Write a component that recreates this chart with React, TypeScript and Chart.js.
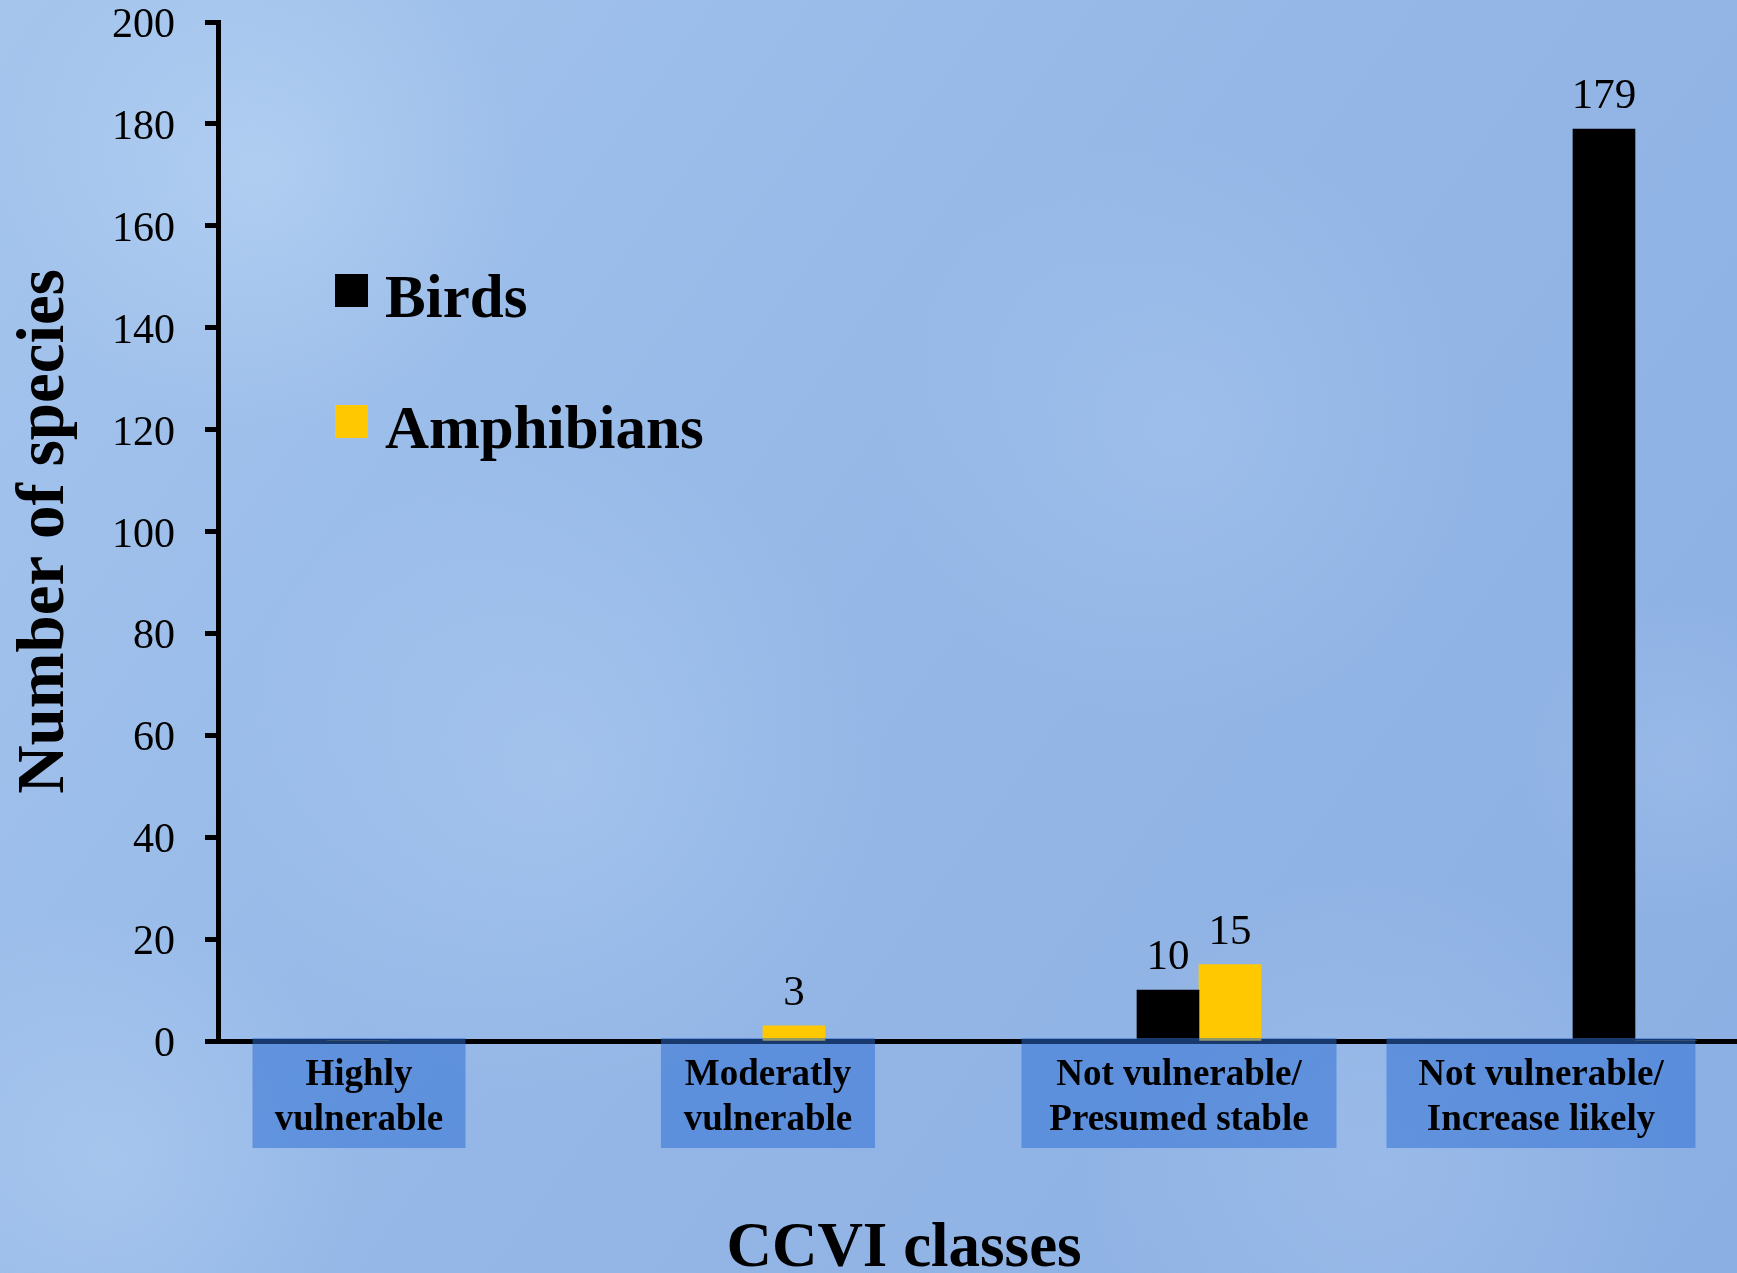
import React, { useEffect, useRef } from "react";
import { Chart, registerables } from "chart.js";

Chart.register(...registerables);

// ---------- data ----------
const categories: string[][] = [
  ["Highly", "vulnerable"],
  ["Moderatly", "vulnerable"],
  ["Not vulnerable/", "Presumed stable"],
  ["Not vulnerable/", "Increase likely"],
];
const seriesNames = ["Birds", "Amphibians"];
const birds = [0, 0, 10, 179];
const amphibians = [0, 3, 15, 0];
const yMin = 0;
const yMax = 200;
const yStep = 20;
const xTitle = "CCVI classes";
const yTitle = "Number of species";

// ---------- styles / layout ----------
const FONT = '"Liberation Serif", "Times New Roman", serif';
const seriesColors = ["#000000", "#ffc800"];
const labelBoxShift = [32, 5, -20, -94];
const labelBoxWidth = [213, 214, 315, 309];

const bgPlugin = {
  id: "bgPlugin",
  beforeDraw(chart: any) {
    const { ctx, width, height } = chart;
    ctx.save();
    const g = ctx.createLinearGradient(0, 0, width, height);
    g.addColorStop(0, "#a5c5ed");
    g.addColorStop(0.5, "#94b7e7");
    g.addColorStop(1, "#8cafe3");
    ctx.fillStyle = g;
    ctx.fillRect(0, 0, width, height);
    const blobs: number[][] = [
      [260, 170, 260, 0.35],
      [560, 770, 330, 0.22],
      [1180, 430, 300, 0.18],
      [110, 1160, 250, 0.25],
      [1380, 1170, 300, 0.18],
      [1680, 760, 160, 0.15],
    ];
    for (const [x, y, r, a] of blobs) {
      const rg = ctx.createRadialGradient(x, y, 0, x, y, r);
      rg.addColorStop(0, `rgba(205,228,252,${a})`);
      rg.addColorStop(1, "rgba(205,228,252,0)");
      ctx.fillStyle = rg;
      ctx.fillRect(x - r, y - r, 2 * r, 2 * r);
    }
    ctx.restore();
  },
};

const valueLabelPlugin = {
  id: "valueLabelPlugin",
  afterDatasetsDraw(chart: any) {
    const { ctx } = chart;
    ctx.save();
    ctx.fillStyle = "#000";
    ctx.font = `43px ${FONT}`;
    ctx.textAlign = "center";
    ctx.textBaseline = "alphabetic";
    chart.data.datasets.forEach((ds: any, di: number) => {
      const meta = chart.getDatasetMeta(di);
      meta.data.forEach((bar: any, i: number) => {
        const v = ds.data[i].y;
        if (!v) return;
        ctx.fillText(String(v), bar.x, bar.y - 21);
      });
    });
    ctx.restore();
  },
};

const decorPlugin = {
  id: "decorPlugin",
  afterDraw(chart: any) {
    const { ctx, chartArea } = chart;
    const xs = chart.scales.x;
    ctx.save();
    // category label boxes
    const top = chartArea.bottom - 3;
    const h = 110;
    categories.forEach((lines, i) => {
      const cx = xs.getPixelForValue(i) + labelBoxShift[i];
      const w = labelBoxWidth[i];
      ctx.fillStyle = "rgba(45,110,210,0.52)";
      ctx.fillRect(cx - w / 2, top, w, h);
      ctx.fillStyle = "#000";
      ctx.font = `bold 37px ${FONT}`;
      ctx.textAlign = "center";
      ctx.textBaseline = "alphabetic";
      lines.forEach((ln, k) => ctx.fillText(ln, cx, top + 47 + k * 45));
    });
    // legend
    const lx = chartArea.left + 117;
    const ly = chartArea.top + 295;
    chart.data.datasets.forEach((ds: any, di: number) => {
      const by = ly + di * 131;
      ctx.fillStyle = ds.backgroundColor;
      ctx.fillRect(lx, by - 43, 33, 33);
      ctx.fillStyle = "#000";
      ctx.font = `bold 61px ${FONT}`;
      ctx.textAlign = "left";
      ctx.fillText(ds.label, lx + 50, by);
    });
    // x title
    ctx.font = `bold 63px ${FONT}`;
    ctx.textAlign = "center";
    ctx.fillText(xTitle, chartArea.left + 686, chart.height - 7);
    ctx.restore();
  },
};

export default function App() {
  const ref = useRef<HTMLCanvasElement | null>(null);
  useEffect(() => {
    document.body.style.margin = "0";
    document.body.style.overflow = "hidden";
    if (!ref.current) return;
    Chart.defaults.font.family = FONT;
    const chart = new Chart(ref.current, {
      type: "bar",
      data: {
        datasets: [
          {
            label: seriesNames[0],
            data: birds.map((v, i) => ({ x: i, y: v })),
            backgroundColor: seriesColors[0],
            borderWidth: 0,
          },
          {
            label: seriesNames[1],
            data: amphibians.map((v, i) => ({ x: i, y: v })),
            backgroundColor: seriesColors[1],
            borderWidth: 0,
          },
        ],
      },
      options: {
        responsive: false,
        animation: false,
        events: [],
        barThickness: 62,
        layout: { padding: { top: 22, right: 0, left: 0, bottom: 0 } },
        plugins: { legend: { display: false }, tooltip: { enabled: false } },
        scales: {
          x: {
            type: "linear",
            min: -0.25,
            max: 3.234,
            offset: false,
            ticks: { display: false, stepSize: 1, includeBounds: false },
            grid: { display: false },
            border: { display: true, color: "#000", width: 5 },
            afterFit: (s: any) => {
              s.height = 232;
              s.paddingLeft = 0;
              s.paddingRight = 0;
            },
          },
          y: {
            min: yMin,
            max: yMax,
            ticks: {
              stepSize: yStep,
              color: "#000",
              font: { family: FONT, size: 42, lineHeight: 1 },
              padding: 30,
              labelOffset: 4,
            },
            grid: {
              drawOnChartArea: false,
              drawTicks: true,
              tickLength: 13,
              tickWidth: 5,
              tickColor: "#000",
            },
            border: { display: true, color: "#000", width: 5 },
            title: {
              display: true,
              text: yTitle,
              color: "#000",
              font: { family: FONT, size: 67, weight: "bold", lineHeight: 1.2 },
              padding: { top: 5, bottom: 0 },
            },
            afterFit: (s: any) => {
              s.width = 218;
              s.paddingTop = 0;
              s.paddingBottom = 0;
            },
          },
        },
      } as any,
      plugins: [bgPlugin, valueLabelPlugin, decorPlugin],
    });
    return () => chart.destroy();
  }, []);
  return (
    <canvas
      ref={ref}
      width={1737}
      height={1273}
      style={{ display: "block", width: "1737px", height: "1273px" }}
    />
  );
}
